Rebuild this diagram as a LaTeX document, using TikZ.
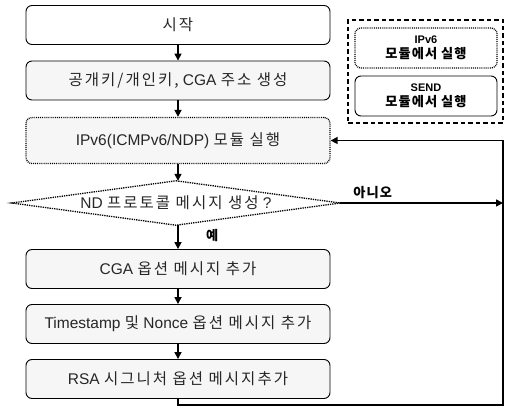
\documentclass[tikz,border=0pt]{standalone}
\usepackage{fontspec}
\setmainfont{Liberation Sans}
\newfontfamily\kr[LetterSpace=13]{Noto Sans CJK KR}
\newfontfamily\krbig[Scale=1.2,LetterSpace=8]{Noto Sans CJK KR}
\usetikzlibrary{arrows.meta}

\tikzset{
  stepbox/.style={draw, rounded corners=6pt, fill=gray!7, line width=0.9pt,
    minimum width=304pt, minimum height=39pt, text=black!85,
    font=\fontsize{15.5}{18}\selectfont},
  ipv6box/.style={densely dotted, line width=1.3pt},
  decision/.style={minimum width=328pt, minimum height=44pt, inner sep=0pt,
    text=black!85, font=\fontsize{15.5}{18}\selectfont},
  legbox/.style={draw, rounded corners=6pt, line width=0.9pt, fill=white,
    minimum width=142pt, minimum height=40pt, align=center,
    font=\fontsize{11}{15.5}\selectfont\bfseries},
  flow/.style={-{Triangle[length=7pt,width=7pt]}, line width=1.6pt},
  answer/.style={font=\fontsize{11}{13}\selectfont\bfseries}
}

\begin{document}
\begin{tikzpicture}[x=1pt, y=-1pt]
    \useasboundingbox (0,0) rectangle (506,411);
    % main flow
    \node[stepbox, fill=white] (start) at (178,25)    {\kr 시작};
    \node[stepbox]             (keys)  at (178,80.5)  {{\kr 공개키/개인키,} CGA {\kr 주소 생성}};
    \node[stepbox, ipv6box, minimum height=46pt] (ipv6) at (178,140.5) {IPv6(ICMPv6/NDP) {\kr 모듈 실행}};
    \node[decision]            (nd)    at (176,203)   {ND {\kr 프로토콜 메시지 생성} ?};
    \draw[ipv6box] (nd.north) -- (nd.east) -- (nd.south) -- (nd.west) -- cycle;
    \node[stepbox]             (cga)   at (178,269)   {CGA {\kr 옵션 메시지 추가}};
    \node[stepbox]             (ts)    at (178,324)   {Timestamp {\kr 및} Nonce {\kr 옵션 메시지 추가}};
    \node[stepbox]             (rsa)   at (178,379)   {RSA {\kr 시그니처 옵션 메시지추가}};
    % legend
    \node[draw, dashed, line width=1.5pt, dash pattern=on 4.5pt off 3pt,
          minimum width=155pt, minimum height=103pt] (legend) at (425.5,71.5) {};
    \node[legbox, ipv6box] (legipv6) at (426,48) {IPv6\\{\krbig 모듈에서 실행}};
    \node[legbox]          (legsend) at (426,96) {SEND\\{\krbig 모듈에서 실행}};
    % connectors
    \draw[flow] (start) -- (keys);
    \draw[flow] (keys) -- (ipv6);
    \draw[flow] (ipv6) -- (ipv6 |- nd.north);
    \draw[flow] (ipv6 |- nd.south) -- node[answer, pos=0.45, right=24pt] {\krbig 예} (cga);
    \draw[flow] (cga) -- (ts);
    \draw[flow] (ts) -- (rsa);
    \coordinate (loopbl) at (178,405);
    \coordinate (loopbr) at (503,405);
    \coordinate (looptr) at (503,140.5);
    \draw[flow] (nd.east) -- node[answer, above, pos=0.2] {\krbig 아니오} (looptr |- nd.east);
    \draw[flow] (rsa.south) -- (loopbl) -- (loopbr) -- (looptr) -- (ipv6.east);
\end{tikzpicture}
\end{document}
